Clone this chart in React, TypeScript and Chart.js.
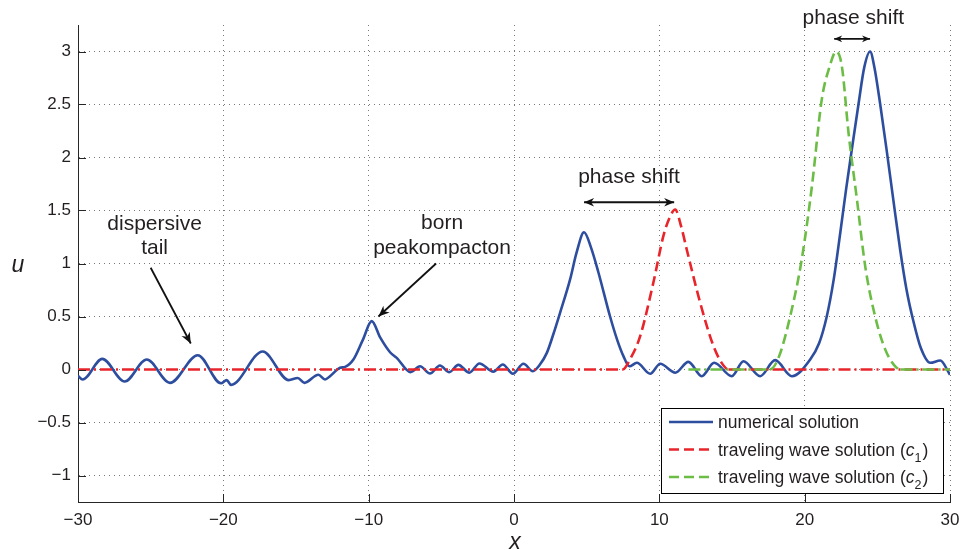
import React, { useEffect, useRef } from "react";
import { Chart, registerables } from "chart.js";

Chart.register(...registerables);

// ---------- data ----------
const numericalX = [
  -30, -29.68, -28.33, -26.79, -25.27, -23.67, -21.76, -20.16, -19.77, -19.47,
  -17.29, -15.5, -14.88, -14.42, -13.46, -13.0, -12.66, -11.97, -11.62, -11.05,
  -10.4, -9.79, -9.2, -8.53, -8.07, -7.11, -6.47, -5.78, -5.1, -4.45,
  -3.83, -3.07, -2.38, -1.42, -0.77, -0.08, 0.65, 1.3, 1.75, 2.26,
  2.7, 3.17, 3.86, 4.3, 4.82, 5.3, 5.8, 6.61, 7.1, 7.53,
  7.94, 8.45, 9.37, 10.06, 11.1, 12.0, 12.92, 13.77, 14.99, 15.79,
  16.94, 17.97, 19.12, 20.38, 21.0, 21.52, 22.0, 22.45, 22.85, 23.25,
  23.7, 24.1, 24.5, 24.8, 25.2, 25.65, 26.1, 26.57, 27.0, 27.49,
  28.0, 28.64, 29.33, 30,
];
const numericalU = [
  -0.06, -0.094, 0.1, -0.113, 0.094, -0.126, 0.135, -0.13, -0.1, -0.145,
  0.17, -0.1, -0.08, -0.126, -0.05, -0.094, -0.063, 0.016, 0.025, 0.094,
  0.28, 0.456, 0.3, 0.163, 0.11, -0.025, 0.031, -0.038, 0.038, -0.025,
  0.044, -0.03, 0.057, -0.02, 0.047, -0.04, 0.054, -0.016, 0.04, 0.157,
  0.33, 0.535, 0.85, 1.1, 1.295, 1.15, 0.92, 0.5, 0.28, 0.126,
  0.03, 0.063, -0.04, 0.054, -0.03, 0.072, -0.063, 0.063, -0.063, 0.078,
  -0.063, 0.088, -0.063, 0.094, 0.25, 0.5, 0.85, 1.29, 1.7, 2.08,
  2.5, 2.85, 3.0, 2.85, 2.5, 2.06, 1.6, 1.13, 0.76, 0.45,
  0.2, 0.063, 0.085, -0.05,
];
const wave1X = [-30, 7.48, 8.0, 8.67, 9.59, 10.28, 10.7, 11.09, 11.5, 11.89, 12.81, 13.73, 14.3, 14.76, 30];
const wave1U = [0, 0, 0.1, 0.31, 0.82, 1.26, 1.43, 1.51, 1.35, 1.13, 0.63, 0.22, 0.06, 0, 0];
const wave2X = [12.0, 17.6, 18.2, 19.12, 19.8, 20.5, 21.18, 21.7, 22.17, 22.56, 23.02, 23.6, 24.17, 24.85, 25.54, 26.23, 26.6, 30];
const wave2U = [0, 0, 0.11, 0.57, 1.04, 1.73, 2.55, 2.85, 3.0, 2.86, 2.23, 1.6, 0.97, 0.5, 0.19, 0.03, 0, 0];

const xTicks = [-30, -20, -10, 0, 10, 20, 30];
const yTicks = [-1, -0.5, 0, 0.5, 1, 1.5, 2, 2.5, 3];

const seriesNames = ["numerical solution", "traveling wave solution", "traveling wave solution"];
const seriesSubscripts = ["", "1", "2"];

const xLabel = "x";
const yLabel = "u";

// annotation texts (positions in data units)
const textNotes = [
  { lines: ["phase shift"], x: 7.91, u: [1.764] },
  { lines: ["phase shift"], x: 23.35, u: [3.255] },
  { lines: ["dispersive", "tail"], x: -24.73, u: [1.314, 1.085] },
  { lines: ["born", "peakompacton"], x: -4.95, u: [1.327, 1.085] },
];
const arrowNotes = [
  { x1: 4.82, u1: 1.578, x2: 11.02, u2: 1.578, both: true, size: 10 },
  { x1: 22.03, u1: 3.12, x2: 24.5, u2: 3.12, both: true, size: 8 },
  { x1: -25.0, u1: 0.96, x2: -22.24, u2: 0.245, both: false, size: 11 },
  { x1: -5.36, u1: 1.0, x2: -9.33, u2: 0.5, both: false, size: 11 },
];

// ---------- styles ----------
const FONT = '"Liberation Sans", Arial, Helvetica, sans-serif';
const TXT = "#231f20";
const BLUE = "#2d4d9f";
const RED = "#e8252b";
const GREEN = "#6cbd45";
const colors = [BLUE, RED, GREEN];
const DASH = [10, 5];
const DASH_DOT = [12, 4, 2, 4];

const toPts = (xs: number[], ys: number[]) => xs.map((x, i) => ({ x, y: ys[i] }));
const zeroSegDash = (ctx: any) =>
  ctx.p0.parsed.y === 0 && ctx.p1.parsed.y === 0 ? DASH_DOT : DASH;

function arrowHead(ctx: CanvasRenderingContext2D, fx: number, fy: number, tx: number, ty: number, len: number) {
  const a = Math.atan2(ty - fy, tx - fx);
  const half = len * 0.42;
  const c = Math.cos(a), s = Math.sin(a);
  const bx = tx - len * c, by = ty - len * s;
  const nx = tx - len * 0.7 * c, ny = ty - len * 0.7 * s;
  ctx.beginPath();
  ctx.moveTo(tx, ty);
  ctx.lineTo(bx - half * s, by + half * c);
  ctx.lineTo(nx, ny);
  ctx.lineTo(bx + half * s, by - half * c);
  ctx.closePath();
  ctx.fill();
}

const decorPlugin = {
  id: "decor",
  afterDatasetsDraw(chart: any) {
    const { ctx, chartArea, scales } = chart;
    const xs = scales.x, ys = scales.y;
    ctx.save();
    // inward ticks
    ctx.strokeStyle = "#262626";
    ctx.lineWidth = 1;
    ctx.beginPath();
    yTicks.forEach((v) => {
      const py = Math.round(ys.getPixelForValue(v)) + 0.5;
      ctx.moveTo(chartArea.left, py);
      ctx.lineTo(chartArea.left + 8, py);
    });
    xTicks.forEach((v) => {
      const px = Math.round(xs.getPixelForValue(v)) + 0.5;
      ctx.moveTo(px, chartArea.bottom);
      ctx.lineTo(px, chartArea.bottom - 8);
    });
    ctx.stroke();

    // annotation texts
    ctx.fillStyle = TXT;
    ctx.font = `21px ${FONT}`;
    ctx.textAlign = "center";
    ctx.textBaseline = "alphabetic";
    textNotes.forEach((n) => {
      n.lines.forEach((line, i) => {
        ctx.fillText(line, xs.getPixelForValue(n.x), ys.getPixelForValue(n.u[i]));
      });
    });

    // arrows
    ctx.strokeStyle = "#111";
    ctx.fillStyle = "#111";
    arrowNotes.forEach((a) => {
      const x1 = xs.getPixelForValue(a.x1), y1 = ys.getPixelForValue(a.u1);
      const x2 = xs.getPixelForValue(a.x2), y2 = ys.getPixelForValue(a.u2);
      ctx.lineWidth = 1.8;
      ctx.beginPath();
      ctx.moveTo(x1, y1);
      ctx.lineTo(x2, y2);
      ctx.stroke();
      arrowHead(ctx, x1, y1, x2, y2, a.size);
      if (a.both) arrowHead(ctx, x2, y2, x1, y1, a.size);
    });

    // axis labels
    ctx.fillStyle = TXT;
    ctx.font = `italic 23px ${FONT}`;
    ctx.textAlign = "center";
    ctx.fillText(xLabel, (chartArea.left + chartArea.right) / 2 + 1, 549);
    ctx.fillText(yLabel, 18, 272);

    // legend
    const bw = 282, bh = 85;
    const bx = chartArea.right - 7 - bw, by = chartArea.bottom - 9 - bh;
    ctx.fillStyle = "#fff";
    ctx.fillRect(bx, by, bw, bh);
    ctx.strokeStyle = "#000";
    ctx.lineWidth = 1;
    ctx.strokeRect(Math.round(bx) + 0.5, Math.round(by) + 0.5, bw, bh);
    const rows = [14, 41.5, 69];
    seriesNames.forEach((name, i) => {
      const ry = by + rows[i];
      ctx.strokeStyle = colors[i];
      ctx.lineWidth = 2.5;
      ctx.setLineDash(i === 0 ? [] : DASH);
      ctx.beginPath();
      ctx.moveTo(bx + 8, ry);
      ctx.lineTo(bx + 52, ry);
      ctx.stroke();
      ctx.setLineDash([]);
      ctx.fillStyle = TXT;
      ctx.textAlign = "left";
      ctx.font = `17.5px ${FONT}`;
      let tx = bx + 57;
      const base = ry + 6;
      if (!seriesSubscripts[i]) {
        ctx.fillText(name, tx, base);
      } else {
        const t1 = name + " (";
        ctx.fillText(t1, tx, base);
        tx += ctx.measureText(t1).width;
        ctx.font = `italic 17.5px ${FONT}`;
        ctx.fillText("c", tx, base);
        tx += ctx.measureText("c").width;
        ctx.font = `12.5px ${FONT}`;
        ctx.fillText(seriesSubscripts[i], tx, base + 6);
        tx += ctx.measureText(seriesSubscripts[i]).width + 1;
        ctx.font = `17.5px ${FONT}`;
        ctx.fillText(")", tx, base);
      }
    });
    ctx.restore();
  },
};

const fmt = (v: number) => (v < 0 ? "\u2212" + String(Math.abs(v)) : String(v));

export default function App() {
  const ref = useRef<HTMLCanvasElement>(null);
  useEffect(() => {
    document.body.style.margin = "0";
    const chart = new Chart(ref.current as HTMLCanvasElement, {
      type: "line",
      data: {
        datasets: [
          {
            label: seriesNames[0],
            data: toPts(numericalX, numericalU),
            borderColor: BLUE,
            borderWidth: 2.6,
            cubicInterpolationMode: "monotone",
            order: 3,
          },
          {
            label: seriesNames[1] + " (c1)",
            data: toPts(wave1X, wave1U),
            borderColor: RED,
            borderWidth: 2.6,
            borderDash: DASH,
            cubicInterpolationMode: "monotone",
            segment: { borderDash: zeroSegDash },
            order: 2,
          },
          {
            label: seriesNames[2] + " (c2)",
            data: toPts(wave2X, wave2U),
            borderColor: GREEN,
            borderWidth: 2.6,
            borderDash: DASH,
            cubicInterpolationMode: "monotone",
            segment: { borderDash: zeroSegDash },
            order: 1,
          },
        ] as any,
      },
      options: {
        animation: false,
        responsive: false,
        maintainAspectRatio: false,
        layout: { padding: { left: 0, right: 13, top: 25, bottom: 0 } },
        elements: { point: { radius: 0 }, line: { fill: false } },
        plugins: { legend: { display: false }, tooltip: { enabled: false }, title: { display: false } },
        scales: {
          x: {
            type: "linear",
            min: -30,
            max: 30,
            afterBuildTicks: (s: any) => {
              s.ticks = xTicks.map((v) => ({ value: v }));
            },
            afterFit: (s: any) => {
              s.height = 48;
              s.paddingLeft = 0;
              s.paddingRight = 0;
            },
            grid: { color: "#7a7a7a", lineWidth: 1, drawTicks: false },
            border: { display: true, color: "#262626", width: 1, dash: [1, 4] },
            ticks: {
              padding: 8,
              color: TXT,
              font: { family: FONT, size: 17 },
              maxRotation: 0,
              callback: (v: any) => fmt(Number(v)),
            },
          },
          y: {
            type: "linear",
            min: -1.25,
            max: 3.25,
            afterBuildTicks: (s: any) => {
              s.ticks = yTicks.map((v) => ({ value: v }));
            },
            afterFit: (s: any) => {
              s.width = 78;
              s.paddingTop = 0;
              s.paddingBottom = 0;
            },
            grid: { color: "#7a7a7a", lineWidth: 1, drawTicks: false },
            border: { display: true, color: "#262626", width: 1, dash: [1, 4] },
            ticks: {
              padding: 7,
              color: TXT,
              font: { family: FONT, size: 17 },
              callback: (v: any) => fmt(Number(v)),
            },
          },
        },
      } as any,
      plugins: [decorPlugin],
    });
    return () => chart.destroy();
  }, []);
  return (
    <div style={{ width: 963, height: 550 }}>
      <canvas ref={ref} width={963} height={550} style={{ display: "block" }} />
    </div>
  );
}
